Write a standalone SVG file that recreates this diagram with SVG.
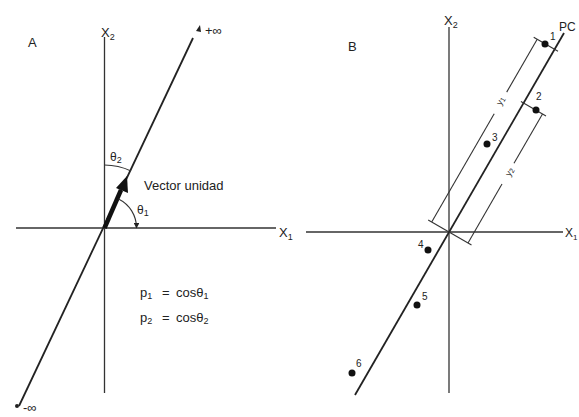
<svg xmlns="http://www.w3.org/2000/svg" width="579" height="417" viewBox="0 0 579 417">
<style>
.ax{stroke:#333;stroke-width:1.3;fill:none}
.pc{stroke:#222;stroke-width:1.8;fill:none}
.dim{stroke:#333;stroke-width:1.1;fill:none}
.t{font-family:"Liberation Sans",Arial,sans-serif;fill:#222}
.dot{fill:#111}
</style>
<defs>
<marker id="ah" viewBox="0 0 10 10" refX="9" refY="5" markerWidth="5" markerHeight="5" orient="auto"><path d="M0,0 L10,5 L0,10 z" fill="#222"/></marker>
</defs>
<rect width="579" height="417" fill="#fff"/>
<g id="connectors">
<!-- Panel A -->
<line class="ax" x1="104.5" y1="37" x2="104.5" y2="393"/>
<line class="ax" x1="16" y1="228" x2="276" y2="228"/>
<line class="pc" x1="19" y1="406" x2="193" y2="38"/>
<path d="M196,31 l4,-6 l1,7 z" fill="#222"/>
<circle cx="17" cy="406" r="2" fill="#222"/>
<line x1="104.5" y1="228" x2="121" y2="190" stroke="#111" stroke-width="4.5"/>
<path d="M127,176 L128,193 L116,188 z" fill="#111"/>
<path class="dim" d="M104.5,165 A63,63 0 0 1 131,171"/>
<path class="dim" d="M118.5,199 A32,32 0 0 1 136.5,228" marker-end="url(#ah)"/>
<!-- Panel B -->
<line class="ax" x1="449" y1="27" x2="449" y2="393"/>
<line class="ax" x1="306" y1="232" x2="563" y2="232"/>
<line class="pc" x1="355" y1="395" x2="564" y2="33"/>
<line class="dim" x1="431.7" y1="222" x2="494.2" y2="113.8"/>
<line class="dim" x1="506.7" y1="92.1" x2="537.2" y2="39.3"/>
<line class="dim" x1="468" y1="243" x2="502" y2="184.1"/>
<line class="dim" x1="514" y1="163.3" x2="542.5" y2="114"/>
<line class="dim" x1="449" y1="232" x2="428.2" y2="220"/>
<line class="dim" x1="449" y1="232" x2="471.5" y2="245"/>
<line class="dim" x1="558" y1="51.3" x2="533.7" y2="37.3"/>
<line class="dim" x1="520.9" y1="101.5" x2="546" y2="116"/>
</g>
<g id="panelA">
<text class="t" x="28" y="47" font-size="13">A</text>
<text class="t" x="101" y="37" font-size="13">X<tspan font-size="9" dy="3">2</tspan></text>
<text class="t" x="279" y="237" font-size="13">X<tspan font-size="9" dy="3">1</tspan></text>
<text class="t" x="205" y="35" font-size="13">+∞</text>
<text class="t" x="23" y="412" font-size="13">-∞</text>
<text class="t" x="110" y="161" font-size="12">θ<tspan font-size="9" dy="2">2</tspan></text>
<text class="t" x="137" y="214" font-size="12">θ<tspan font-size="9" dy="2">1</tspan></text>
<text class="t" x="144" y="190" font-size="13">Vector unidad</text>
<text class="t" x="140" y="297" font-size="13">p<tspan font-size="9" dy="2">1</tspan><tspan x="162" dy="-2">=</tspan><tspan x="176">cosθ</tspan><tspan font-size="9" dy="2">1</tspan></text>
<text class="t" x="140" y="322" font-size="13">p<tspan font-size="9" dy="2">2</tspan><tspan x="162" dy="-2">=</tspan><tspan x="176">cosθ</tspan><tspan font-size="9" dy="2">2</tspan></text>
</g>
<g id="panelB">
<text class="t" x="348" y="51" font-size="13">B</text>
<text class="t" x="444" y="25" font-size="13">X<tspan font-size="9" dy="3">2</tspan></text>
<text class="t" x="565" y="237" font-size="12">X<tspan font-size="8" dy="3">1</tspan></text>
<text class="t" x="559" y="31" font-size="12">PC</text>
<text class="t" font-size="9" transform="translate(501,106) rotate(-60)">y<tspan font-size="7" dy="1">1</tspan></text>
<text class="t" font-size="9" transform="translate(510,177) rotate(-60)">y<tspan font-size="7" dy="1">2</tspan></text>
</g>
<g id="point1"><circle class="dot" cx="545" cy="44" r="3.5"/><text class="t" x="550" y="40" font-size="10">1</text></g>
<g id="point2"><circle class="dot" cx="536" cy="110" r="3.5"/><text class="t" x="536" y="100" font-size="10">2</text></g>
<g id="point3"><circle class="dot" cx="487" cy="144" r="3.5"/><text class="t" x="492" y="141" font-size="10">3</text></g>
<g id="point4"><circle class="dot" cx="428" cy="250" r="3.5"/><text class="t" x="418" y="248" font-size="10">4</text></g>
<g id="point5"><circle class="dot" cx="417" cy="305" r="3.5"/><text class="t" x="422" y="300" font-size="10">5</text></g>
<g id="point6"><circle class="dot" cx="352" cy="373" r="3.5"/><text class="t" x="356" y="367" font-size="10">6</text></g>
</svg>
